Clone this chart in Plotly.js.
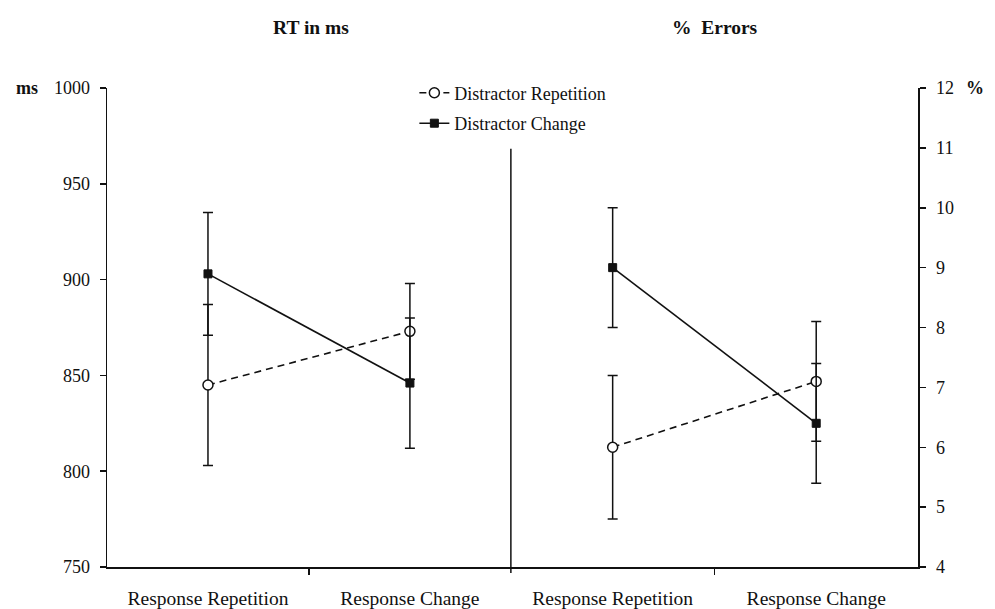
<!DOCTYPE html>
<html>
<head>
<meta charset="utf-8">
<script src="https://cdn.plot.ly/plotly-3.0.1.min.js"></script>
<style>html,body{margin:0;padding:0;background:#fff;}#chart{width:995px;height:609px;}</style>
</head>
<body>
<div id="chart"></div>
<script>
// Categories (x positions are category indices; 0.5 / 1.5 are category centres)
const categories = ["Response Repetition", "Response Change"];
const catPos = [0.5, 1.5];

// RT in ms
const rtRepetition = [845, 873];
const rtRepetitionErr = [42, 25];
const rtChange = [903, 846];
const rtChangeErr = [32, 34];

// % Errors
const errRepetition = [6.0, 7.1];
const errRepetitionErr = [1.2, 1.0];
const errChange = [9.0, 6.4];
const errChangeErr = [1.0, 1.0];

const rtTicks = [750, 800, 850, 900, 950, 1000];
const errTicks = [4, 5, 6, 7, 8, 9, 10, 11, 12];

const FONT = "Liberation Serif, Times New Roman, serif";
const SPLIT = 0.498;

function errBar(arr) {
  return {type: 'data', array: arr, symmetric: true, color: '#111', thickness: 1.5, width: 5};
}
const repLine = {color: '#111', width: 1.6, dash: '7px,5px'};
const chgLine = {color: '#111', width: 1.6};
const repMarker = {symbol: 'circle', size: 10, color: '#fff', line: {color: '#111', width: 1.5}};
const chgMarker = {symbol: 'square', size: 8, color: '#111', line: {color: '#111', width: 1}};

const traces = [
  {x: catPos, y: rtRepetition, error_y: errBar(rtRepetitionErr), mode: 'lines+markers',
   name: 'Distractor Repetition', line: repLine, marker: repMarker, xaxis: 'x', yaxis: 'y', legendgroup: 'a'},
  {x: catPos, y: rtChange, error_y: errBar(rtChangeErr), mode: 'lines+markers',
   name: 'Distractor Change', line: chgLine, marker: chgMarker, xaxis: 'x', yaxis: 'y', legendgroup: 'b'},
  {x: catPos, y: errRepetition, error_y: errBar(errRepetitionErr), mode: 'lines+markers',
   name: 'Distractor Repetition', line: repLine, marker: repMarker, xaxis: 'x2', yaxis: 'y2', showlegend: false},
  {x: catPos, y: errChange, error_y: errBar(errChangeErr), mode: 'lines+markers',
   name: 'Distractor Change', line: chgLine, marker: chgMarker, xaxis: 'x2', yaxis: 'y2', showlegend: false}
];

const xCommon = {
  range: [0, 2], tickvals: catPos, ticktext: categories, ticks: '', ticklen: 0,
  showline: true, linecolor: '#111', linewidth: 1.5, showgrid: false, zeroline: false,
  ticklabelstandoff: 13,
  minor: {tickvals: [1], ticks: 'outside', ticklen: 6, tickwidth: 1.5, tickcolor: '#111', showgrid: false},
  tickfont: {family: FONT, size: 19.5, color: '#111'}, fixedrange: true
};

const layout = {
  width: 995, height: 609,
  margin: {l: 107, r: 77, t: 88, b: 42},
  paper_bgcolor: '#fff', plot_bgcolor: '#fff',
  font: {family: FONT, color: '#111'},
  showlegend: true,
  legend: {x: 0.379, y: 1.028, xanchor: 'left', yanchor: 'top', bgcolor: 'rgba(0,0,0,0)',
           font: {family: FONT, size: 18, color: '#111'}, traceorder: 'grouped', tracegroupgap: 4,
           itemwidth: 30},
  xaxis: Object.assign({}, xCommon, {domain: [0, SPLIT], anchor: 'y'}),
  xaxis2: Object.assign({}, xCommon, {domain: [SPLIT, 1], anchor: 'y2'}),
  yaxis: {
    domain: [0, 1], anchor: 'x', range: [750, 1000], tickvals: rtTicks,
    ticks: 'outside', ticklen: 6, tickwidth: 1.5, tickcolor: '#111',
    showline: true, linecolor: '#111', linewidth: 1.5, showgrid: false, zeroline: false,
    tickfont: {family: FONT, size: 18, color: '#111'}, ticklabelstandoff: 6
  },
  yaxis2: {
    domain: [0, 1], anchor: 'x2', side: 'right', range: [4, 12], tickvals: errTicks,
    ticks: 'outside', ticklen: 6, tickwidth: 1.5, tickcolor: '#111',
    showline: true, linecolor: '#111', linewidth: 1.5, showgrid: false, zeroline: false,
    tickfont: {family: FONT, size: 18, color: '#111'}, ticklabelstandoff: 7
  },
  shapes: [
    {type: 'line', xref: 'paper', yref: 'paper', x0: SPLIT, x1: SPLIT, y0: -0.0125, y1: 0.873,
     line: {color: '#111', width: 1.5}}
  ],
  annotations: [
    {text: '<b>RT in ms</b>', xref: 'paper', yref: 'paper', x: 0.252, y: 1.127, xanchor: 'center', yanchor: 'middle',
     showarrow: false, font: {family: FONT, size: 19.5, color: '#111'}},
    {text: '<b>%\u00a0\u00a0Errors</b>', xref: 'paper', yref: 'paper', x: 0.750, y: 1.127, xanchor: 'center', yanchor: 'middle',
     showarrow: false, font: {family: FONT, size: 19.5, color: '#111'}},
    {text: '<b>ms</b>', xref: 'paper', yref: 'paper', x: -0.083, y: 1.0, xanchor: 'right', yanchor: 'middle',
     showarrow: false, font: {family: FONT, size: 18, color: '#111'}},
    {text: '<b>%</b>', xref: 'paper', yref: 'paper', x: 1.057, y: 1.0, xanchor: 'left', yanchor: 'middle',
     showarrow: false, font: {family: FONT, size: 18, color: '#111'}}
  ]
};

Plotly.newPlot('chart', traces, layout, {displayModeBar: false, staticPlot: true});
</script>
</body>
</html>
